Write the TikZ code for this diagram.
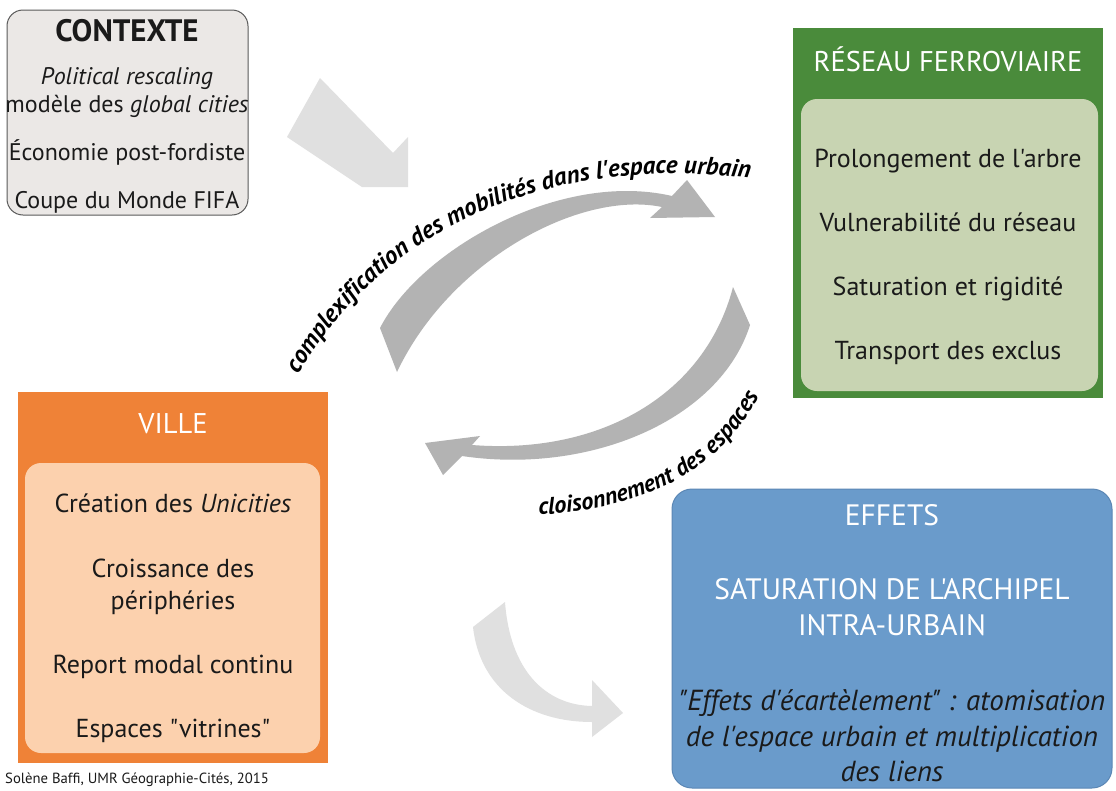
\documentclass[tikz,border=0pt]{standalone}
\usepackage{fontspec}
\setmainfont{PT Sans}[Ligatures=TeXOff]
\usetikzlibrary{decorations.text}
\definecolor{ctxfill}{HTML}{EBE8E6}
\definecolor{ctxdraw}{HTML}{5A5A5A}
\definecolor{greenout}{HTML}{4A8B3B}
\definecolor{greenin}{HTML}{C8D4B2}
\definecolor{orangeout}{HTML}{EF8237}
\definecolor{orangein}{HTML}{FCD1AE}
\definecolor{bluefill}{HTML}{6A9BCB}
\definecolor{bluedraw}{HTML}{5B87B5}
\definecolor{arrowdark}{HTML}{B3B3B3}
\definecolor{arrowlight}{HTML}{E0E0E0}
\definecolor{txt}{HTML}{1A1A1A}
\tikzset{
  panel/.style={anchor=north west, inner sep=0pt, outer sep=0pt},
  ctxtxt/.style={font=\fontsize{24}{28}\selectfont, text=txt, inner sep=0pt, anchor=base},
  bodytxt/.style={font=\fontsize{26}{30}\selectfont, text=txt, inner sep=0pt, anchor=base},
  titletxt/.style={font=\fontsize{28.5}{32}\selectfont, text=white, inner sep=0pt, anchor=base},
  bigtxt/.style={font=\fontsize{29.5}{34}\selectfont, text=white, inner sep=0pt, anchor=base},
  efftxt/.style={font=\fontsize{29}{34}\selectfont\itshape, text=txt, inner sep=0pt, anchor=base},
}
\begin{document}
\begin{tikzpicture}[x=1pt,y=1pt]
\useasboundingbox (0,0) rectangle (1116,-790);
\fill[white] (0,0) rectangle (1116,-790);

% ---------- arrows ----------
\fill[arrowlight] (287,-137) -- (320,-78) -- (393,-153) -- (408,-137) -- (408,-187) -- (362,-187) -- cycle;
\fill[arrowdark] (380,-328) .. controls (420,-250) and (560,-170) .. (672,-196) -- (687,-180) -- (715,-217) -- (650,-218) -- (662,-207) .. controls (580,-190) and (450,-260) .. (397,-372) -- cycle;
\fill[arrowdark] (750,-325) .. controls (720,-420) and (590,-475) .. (462,-456) -- (443,-475) -- (425,-443) -- (480,-436) -- (472,-445) .. controls (600,-455) and (705,-395) .. (733,-287) -- cycle;
\fill[arrowlight] (473,-627) .. controls (480,-690) and (530,-722) .. (592,-722) -- (592,-737) -- (623,-713) -- (592,-680) -- (592,-706) .. controls (545,-705) and (510,-670) .. (505,-602) -- cycle;

\path[decorate, decoration={text along path, text align=center,
  text={|\fontsize{25}{29}\selectfont\bfseries\itshape|complexification des mobilités dans l'espace urbain}}]
  (284,-402) .. controls (355,-250) and (530,-140) .. (780,-183);
\path[decorate, decoration={text along path, text align=center,
  text={|\fontsize{24}{28}\selectfont\bfseries\itshape|cloisonnement des espaces}}]
  (512,-515) .. controls (630,-516) and (728,-478) .. (770,-372);

% ---------- CONTEXTE ----------
\node[panel, fill=ctxfill, draw=ctxdraw, line width=1pt, rounded corners=16pt, minimum width=241pt, minimum height=205pt] (ctx) at (7,-10) {};
\node[ctxtxt, font=\fontsize{31}{34}\selectfont\bfseries] (ctxt) at (127,-41) {CONTEXTE};
\node[ctxtxt, font=\fontsize{24}{28}\selectfont\itshape] (ctxa) at (127,-84) {Political rescaling};
\node[ctxtxt] (ctxb) at (127,-112) {modèle des \textit{global cities}};
\node[ctxtxt] (ctxc) at (127,-160) {Économie post-fordiste};
\node[ctxtxt] (ctxd) at (127,-208) {Coupe du Monde FIFA};

% ---------- RESEAU ----------
\node[panel, fill=greenout, minimum width=310pt, minimum height=370pt] (res) at (793,-28) {};
\node[panel, fill=greenin, rounded corners=16pt, minimum width=297pt, minimum height=292pt] (resin) at (801,-99) {};
\node[titletxt] (rest) at (948,-71) {RÉSEAU FERROVIAIRE};
\node[bodytxt] (resa) at (948,-167) {Prolongement de l'arbre};
\node[bodytxt] (resb) at (948,-231) {Vulnerabilité du réseau};
\node[bodytxt] (resc) at (948,-295) {Saturation et rigidité};
\node[bodytxt] (resd) at (948,-359) {Transport des exclus};

% ---------- VILLE ----------
\node[panel, fill=orangeout, minimum width=310pt, minimum height=371pt] (vil) at (18,-392) {};
\node[panel, fill=orangein, rounded corners=16pt, minimum width=295pt, minimum height=290pt] (vilin) at (25,-463) {};
\node[titletxt] (vilt) at (173,-433) {VILLE};
\node[bodytxt] (vila) at (173,-512) {Création des \textit{Unicities}};
\node[bodytxt] (vilb) at (173,-577) {Croissance des};
\node[bodytxt] (vilc) at (173,-609) {périphéries};
\node[bodytxt] (vild) at (173,-673) {Report modal continu};
\node[bodytxt] (vile) at (173,-737) {Espaces "vitrines"};

% ---------- EFFETS ----------
\node[panel, fill=bluefill, draw=bluedraw, line width=1pt, rounded corners=20pt, minimum width=440pt, minimum height=299pt] (eff) at (672,-489) {};
\node[bigtxt] (efft) at (892,-525) {EFFETS};
\node[bigtxt] (effa) at (892,-599) {SATURATION DE L'ARCHIPEL};
\node[bigtxt] (effb) at (892,-635) {INTRA-URBAIN};
\node[efftxt] (effc) at (892,-710) {"Effets d'écartèlement" : atomisation};
\node[efftxt] (effd) at (892,-746) {de l'espace urbain et multiplication};
\node[efftxt] (effe) at (892,-781) {des liens};

% ---------- credit ----------
\node[anchor=base west, inner sep=0pt, font=\fontsize{14.7}{17}\selectfont, text=txt] (credit) at (5,-783) {Solène Baffi, UMR Géographie-Cités, 2015};
\end{tikzpicture}
\end{document}
